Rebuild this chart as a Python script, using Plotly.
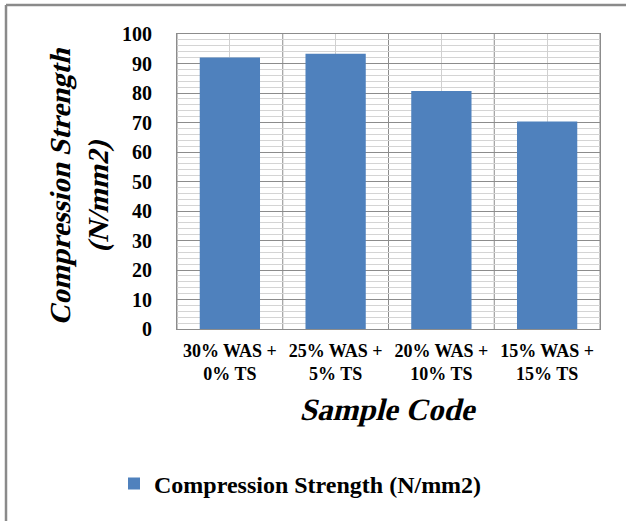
import plotly.graph_objects as go

categories = ["30% WAS +<br>0% TS", "25% WAS +<br>5% TS", "20% WAS +<br>10% TS", "15% WAS +<br>15% TS"]
strength = [92.0, 93.3, 80.7, 70.3]
series_name = "Compression Strength (N/mm2)"
y_title = "Compression Strength<br>(N/mm2)"
x_title = "Sample Code"

W, H = 626, 521
L, R, T, B = 177, 26, 34, 192
pw, ph = W - L - R, H - T - B

def px_x(x):
    return (x - L) / pw

def px_y(y):
    return 1 - (y - T) / ph

serif = "Liberation Serif"
fig = go.Figure()
fig.add_trace(go.Bar(x=categories, y=strength, name=series_name,
                     marker=dict(color="#4f81bd", line=dict(width=0)),
                     width=0.57, showlegend=True))

shapes = []
n = len(categories)
for k in range(n + 1):
    shapes.append(dict(type="line", xref="x domain", yref="y domain",
                       x0=k / n, x1=k / n, y0=0, y1=1, layer="below",
                       line=dict(color="#8c8c8c", width=1)))
# outer chart frame (top and left visible)
shapes.append(dict(type="line", xref="paper", yref="paper",
                   x0=px_x(6), x1=px_x(6), y0=px_y(530), y1=px_y(5),
                   line=dict(color="#8a8a8a", width=2.5)))
shapes.append(dict(type="line", xref="paper", yref="paper",
                   x0=px_x(6), x1=px_x(640), y0=px_y(5), y1=px_y(5),
                   line=dict(color="#8a8a8a", width=2.5)))

fig.update_layout(
    width=W, height=H,
    margin=dict(l=L, r=R, t=T, b=B),
    paper_bgcolor="white", plot_bgcolor="white",
    shapes=shapes,
    bargap=0.43,
    font=dict(family=serif, color="black"),
    legend=dict(orientation="h", x=px_x(114), xanchor="left",
                y=px_y(484), yanchor="middle",
                font=dict(family=serif, size=24, weight="bold", color="black"),
                itemwidth=30),
    annotations=[
        dict(text=y_title, xref="paper", yref="paper", x=px_x(79), y=px_y(190),
             xanchor="center", yanchor="middle", textangle=-90, showarrow=False,
             font=dict(family=serif, size=29, weight="bold", color="black")),
        dict(text=x_title, xref="paper", yref="paper",
             x=px_x(389), y=px_y(410),
             xanchor="center", yanchor="middle", showarrow=False,
             font=dict(family=serif, size=31, weight="bold", color="black")),
    ],
)
fig.update_xaxes(showgrid=True, gridcolor="#d0d0d0", gridwidth=1,
                 showline=True, linecolor="#8c8c8c", mirror=True,
                 ticks="", ticklabelstandoff=5,
                 tickfont=dict(family=serif, size=18, weight="bold", color="black"))
fig.update_yaxes(range=[0, 100], dtick=10, tick0=0,
                 showgrid=True, gridcolor="#8c8c8c", gridwidth=1,
                 minor=dict(dtick=2, showgrid=True, gridcolor="#d4d4d4", gridwidth=1),
                 showline=True, linecolor="#8c8c8c", mirror=True,
                 zeroline=False, ticks="", ticklabelstandoff=20,
                 tickfont=dict(family=serif, size=20, weight="bold", color="black"))

# slant the serif axis titles (no serif italic face is installed)
post_js = """
var gd = document.getElementById('{plot_id}');
gd.querySelectorAll('.annotation-text').forEach(function(t){
  var b = t.getBBox();
  var cx = b.x + b.width/2, cy = b.y + b.height/2;
  var old = t.getAttribute('transform') || '';
  t.setAttribute('transform', old + ' translate(' + cx + ',' + cy + ') skewX(-14) translate(' + (-cx) + ',' + (-cy) + ')');
});
"""

fig.write_html("out.html", post_script=post_js)
